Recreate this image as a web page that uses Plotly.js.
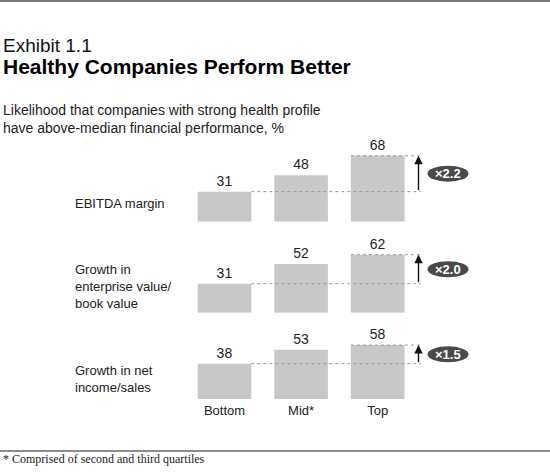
<!DOCTYPE html>
<html>
<head>
<meta charset="utf-8">
<script src="https://cdn.plot.ly/plotly-3.0.1.min.js"></script>
<style>
html,body{margin:0;padding:0;background:#fff;}
#chart{width:550px;height:474px;}
</style>
</head>
<body>
<div id="chart"></div>
<script>
// ---- data ----
var categories = ['Bottom', 'Mid*', 'Top'];
var metrics = ['EBITDA margin', 'Growth in<br>enterprise value/<br>book value', 'Growth in net<br>income/sales'];
var ebitdaMargin = [31, 48, 68];
var evBookGrowth = [31, 52, 62];
var netIncomeGrowth = [38, 53, 58];
var multiples = ['×2.2', '×2.0', '×1.5'];

var series = [ebitdaMargin, evBookGrowth, netIncomeGrowth];

// ---- layout helpers (pixel geometry) ----
var W = 550, H = 474;
function py(px) { return 1 - px / H; }
var x0px = 224.5, xStep = 76.6;
function dx(px) { return (px - x0px) / xStep; }

var panelBase = [221.7, 312.7, 399];     // baseline pixels
var panelScale = [0.97, 0.935, 0.93];   // px per unit
var panelH = 80;
var labelY = [203, 286.7, 378.5];

var barColor = '#c8c8c8';
var txtColor = '#222222';
var font = 'Liberation Sans, Arial, Helvetica, sans-serif';

var traces = [];
var shapes = [];
var annotations = [];
var layout = {
  width: W, height: H,
  margin: {l: 0, r: 0, t: 0, b: 0},
  paper_bgcolor: '#ffffff',
  plot_bgcolor: 'rgba(0,0,0,0)',
  showlegend: false,
  bargap: 0.3,
  font: {family: font, size: 13, color: txtColor},
  xaxis: {
    type: 'category',
    range: [dx(0), dx(W)],
    domain: [0, 1],
    anchor: 'y3',
    showgrid: false, zeroline: false, showline: false,
    ticks: '',
    ticklabelstandoff: 2,
    tickfont: {family: font, size: 13, color: txtColor},
    fixedrange: true
  }
};

series.forEach(function (vals, i) {
  var yName = i === 0 ? 'y' : 'y' + (i + 1);
  var yKey = i === 0 ? 'yaxis' : 'yaxis' + (i + 1);
  var top = panelBase[i] - panelH;
  layout[yKey] = {
    domain: [py(panelBase[i]), py(top)],
    range: [0, panelH / panelScale[i]],
    showgrid: false, zeroline: false, showline: false,
    showticklabels: false, ticks: '', fixedrange: true,
    anchor: 'x'
  };
  traces.push({
    type: 'bar',
    x: categories,
    y: vals,
    xaxis: 'x',
    yaxis: yName,
    width: 0.7,
    marker: {color: barColor, line: {width: 0}},
    text: vals.map(String),
    textposition: 'outside',
    constraintext: 'none',
    textfont: {family: font, size: 14, color: txtColor},
    cliponaxis: false,
    hoverinfo: 'skip'
  });

  var low = vals[0], high = vals[vals.length - 1];
  var lineEnd = dx(421);
  // dashed reference lines
  shapes.push({
    type: 'line', xref: 'x', yref: yName,
    x0: 0.35, x1: lineEnd, y0: low, y1: low,
    line: {color: '#9a9a9a', width: 1, dash: '3px,3px'}, layer: 'above'
  });
  shapes.push({
    type: 'line', xref: 'x', yref: yName,
    x0: 2 - 0.35, x1: lineEnd, y0: high, y1: high,
    line: {color: '#9a9a9a', width: 1, dash: '3px,3px'}, layer: 'above'
  });
  // arrow
  var ax = dx(418.5);
  annotations.push({
    xref: 'x', yref: yName, axref: 'x', ayref: yName,
    x: ax, y: high, ax: ax, ay: low,
    text: '', showarrow: true,
    arrowhead: 2, arrowsize: 1.2, arrowwidth: 1.4, arrowcolor: '#111111',
    standoff: 0, startstandoff: 0
  });
  // badge
  var mid = (low + high) / 2;
  shapes.push({
    type: 'circle', xref: 'x', yref: yName,
    xsizemode: 'pixel', xanchor: dx(448), x0: -20.5, x1: 20.5,
    ysizemode: 'pixel', yanchor: mid, y0: -8, y1: 8,
    fillcolor: '#4a4a4a', line: {width: 0}, layer: 'above'
  });
  annotations.push({
    xref: 'x', yref: yName, x: dx(448), y: mid,
    text: '<b>' + multiples[i] + '</b>', showarrow: false,
    font: {family: font, size: 13, color: '#ffffff'},
    xanchor: 'center', yanchor: 'middle'
  });
  // row label
  annotations.push({
    xref: 'paper', yref: 'paper', x: 73 / W, y: py(labelY[i]),
    text: metrics[i], showarrow: false, align: 'left',
    xanchor: 'left', yanchor: 'middle',
    font: {family: font, size: 13, color: txtColor}
  });
});

// titles and notes
annotations.push({
  xref: 'paper', yref: 'paper', x: 1 / W, y: py(45),
  text: 'Exhibit 1.1', showarrow: false, xanchor: 'left', yanchor: 'middle',
  font: {family: font, size: 19, color: '#111111'}
});
annotations.push({
  xref: 'paper', yref: 'paper', x: 1 / W, y: py(67),
  text: '<b>Healthy Companies Perform Better</b>', showarrow: false,
  xanchor: 'left', yanchor: 'middle',
  font: {family: font, size: 21, color: '#000000'}
});
annotations.push({
  xref: 'paper', yref: 'paper', x: 1 / W, y: py(119.5),
  text: 'Likelihood that companies with strong health profile<br>have above-median financial performance, %',
  showarrow: false, xanchor: 'left', yanchor: 'middle', align: 'left',
  font: {family: font, size: 14, color: txtColor}
});
annotations.push({
  xref: 'paper', yref: 'paper', x: 1 / W, y: py(459),
  text: '* Comprised of second and third quartiles',
  showarrow: false, xanchor: 'left', yanchor: 'middle',
  font: {family: 'Liberation Serif, Times New Roman, serif', size: 12, color: txtColor}
});

// frame lines
shapes.push({type: 'line', xref: 'paper', yref: 'paper', x0: 0, x1: 1, y0: py(1), y1: py(1),
  line: {color: '#777777', width: 2}});
shapes.push({type: 'line', xref: 'paper', yref: 'paper', x0: 0, x1: 1, y0: py(451), y1: py(451),
  line: {color: '#666666', width: 1.5}});

layout.shapes = shapes;
layout.annotations = annotations;

Plotly.newPlot('chart', traces, layout, {staticPlot: true, displayModeBar: false});
</script>
</body>
</html>
